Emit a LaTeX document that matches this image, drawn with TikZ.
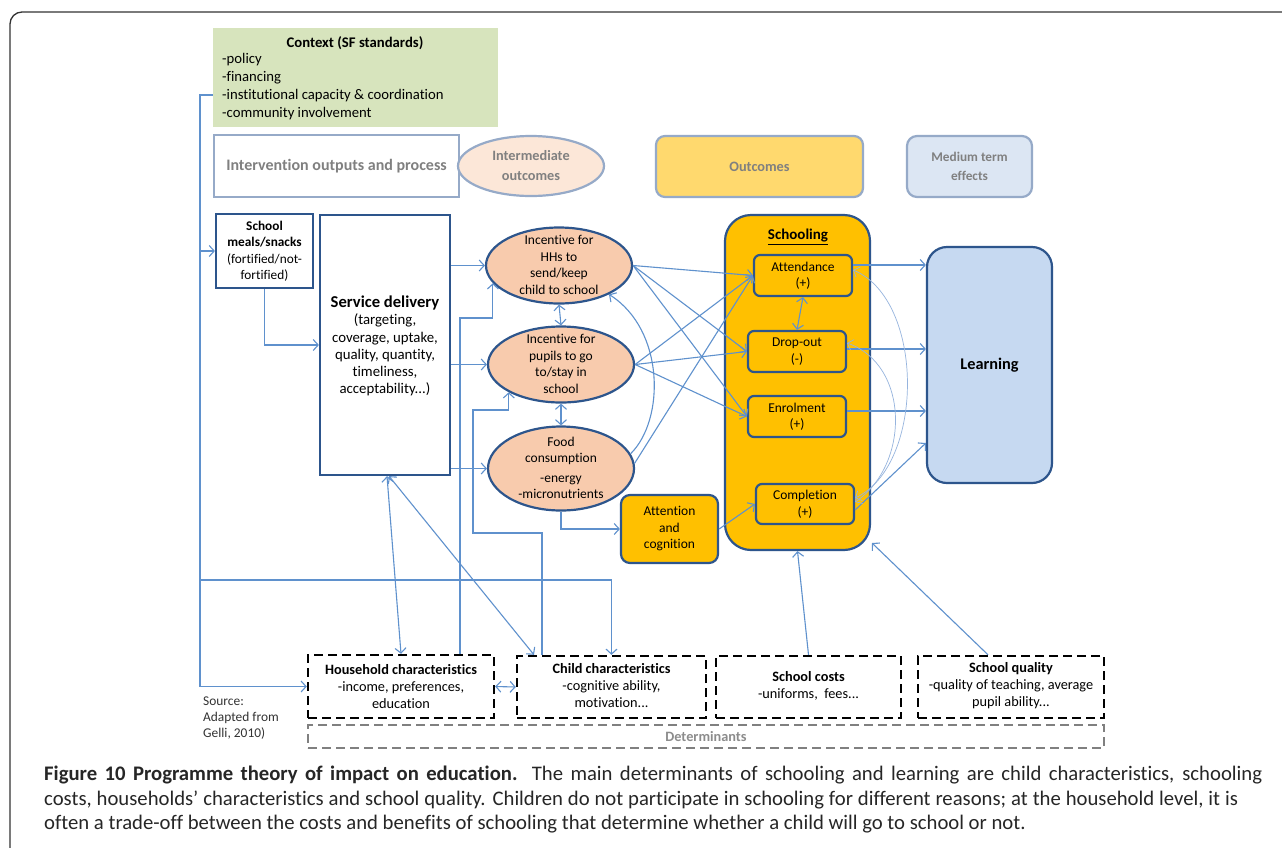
\documentclass[tikz,border=0pt]{standalone}
\usepackage{fontspec}
\setmainfont{Carlito}[Ligatures={NoCommon}]
\usetikzlibrary{arrows.meta,shapes.geometric}
\definecolor{arrc}{RGB}{95,145,205}
\definecolor{fbc}{RGB}{150,180,222}
\definecolor{nodeb}{RGB}{45,85,140}
\definecolor{legb}{RGB}{150,170,200}
\definecolor{ctxg}{RGB}{215,228,189}
\definecolor{peach}{RGB}{248,203,173}
\definecolor{lpeach}{RGB}{252,231,216}
\definecolor{gold}{RGB}{255,192,0}
\definecolor{lgold}{RGB}{255,217,110}
\definecolor{lblue}{RGB}{198,217,241}
\definecolor{llblue}{RGB}{220,230,243}
\definecolor{legtxt}{RGB}{128,128,128}
\newcommand{\myfs}[2]{\fontsize{#1}{#2}\selectfont}
\begin{document}
\begin{tikzpicture}[x=1pt,y=-1pt,
  box/.style={draw=nodeb, line width=2.2pt, inner sep=0pt},
  legbox/.style={draw=legb, line width=2.2pt, inner sep=0pt, text=legtxt, font=\bfseries\myfs{14.3}{19}, align=center},
  ell/.style={ellipse, draw=nodeb, line width=2.2pt, fill=peach, inner sep=0pt},
  txt/.style={align=center, inner sep=0pt, font=\myfs{13.5}{16.5}},
  det/.style={draw=black, line width=2.4pt, dash pattern=on 9pt off 5pt, inner sep=0pt},
  arr/.style={draw=arrc, line width=1.1pt, -{Straight Barb[length=5pt,width=11pt]}},
  darr/.style={draw=arrc, line width=1.1pt, {Straight Barb[length=5pt,width=11pt]}-{Straight Barb[length=5pt,width=11pt]}},
  fb/.style={draw=fbc, line width=0.7pt, {Straight Barb[length=5pt,width=11pt]}-{Straight Barb[length=5pt,width=11pt]}},
  ln/.style={draw=arrc, line width=1.1pt}
]
\useasboundingbox (0,0) rectangle (1282,847);
\fill[white] (0,0) rectangle (1282,847);
% outer frame
\draw[line width=1.3pt, black!80, rounded corners=12pt] (10,860) -- (10,12) -- (1295,12);

% context
\node[fill=ctxg, minimum width=285pt, minimum height=99pt, inner sep=0pt] (ctx) at (355.5,77.5) {};
\node[font=\bfseries\myfs{14.7}{16}, inner sep=0pt] (ctxt) at (355,43) {Context (SF standards)};
\node[anchor=north west, align=left, inner sep=0pt, font=\myfs{14.7}{18}] (ctxl) at (222,53.5) {-policy\\-financing\\-institutional capacity \& coordination\\-community involvement};

% legend
\node[legbox, fill=white, minimum width=245pt, minimum height=62pt, font=\bfseries\myfs{16}{19}] (iop) at (336.5,166) {Intervention outputs and process};
\node[legbox, ellipse, fill=lpeach, minimum width=146pt, minimum height=60pt] (imo) at (531,166) {};
\node[txt, text=legtxt, font=\bfseries\myfs{14.3}{20}] (imot) at (531,166) {Intermediate\\outcomes};
\node[legbox, rounded corners=9pt, fill=lgold, minimum width=207pt, minimum height=61pt] (outc) at (759.5,166.5) {Outcomes};
\node[legbox, rounded corners=10pt, fill=llblue, minimum width=125pt, minimum height=61pt, font=\bfseries\myfs{13.3}{19}] (mte) at (969.5,166.5) {Medium term\\effects};

% left column
\node[box, minimum width=97pt, minimum height=74pt] (meals) at (264.5,251) {};
\node[txt, font=\myfs{13.3}{16.5}] (mealst) at (264.5,251) {\textbf{School}\\\textbf{meals/snacks}\\(fortified/not-\\fortified)};
\node[box, minimum width=130pt, minimum height=260pt] (sd) at (385,345) {};
\node[txt, font=\myfs{14.8}{17.2}] (sdt) at (385,346) {{\bfseries\myfs{16.6}{17.2}Service delivery}\\(targeting,\\coverage, uptake,\\quality, quantity,\\timeliness,\\acceptability...)};

% ellipses
\node[ell, minimum width=146pt, minimum height=76pt] (e1) at (559,265.5) {};
\node[txt] at (559,265) {Incentive for\\HHs to\\send/keep\\child to school};
\node[ell, minimum width=146pt, minimum height=76pt] (e2) at (561,364.5) {};
\node[txt] at (561,364) {Incentive for\\pupils to go\\to/stay in\\school};
\node[ell, minimum width=146pt, minimum height=84pt] (e3) at (561,468.5) {};
\node[txt] at (561,468) {Food\\consumption\\[3pt]-energy\\-micronutrients};

\node[box, rounded corners=9pt, fill=gold, minimum width=97pt, minimum height=68pt] (attn) at (669.5,529) {};
\node[txt] at (669.5,529) {Attention\\and\\cognition};

% schooling
\node[box, rounded corners=26pt, fill=gold, minimum width=145pt, minimum height=335pt] (sch) at (797.5,382.5) {};
\node[inner sep=0pt, font=\bfseries\myfs{15}{16}] (scht) at (798,237) {\underline{Schooling}};
\node[box, rounded corners=6pt, fill=gold, minimum width=98pt, minimum height=41pt] (att) at (803,275.5) {};
\node[txt] at (803,275.5) {Attendance\\(+)};
\node[box, rounded corners=6pt, fill=gold, minimum width=98pt, minimum height=41pt] (drop) at (797,351.5) {};
\node[txt] at (797,351.5) {Drop-out\\(-)};
\node[box, rounded corners=6pt, fill=gold, minimum width=98pt, minimum height=41pt] (enr) at (797,416.5) {};
\node[txt] at (797,416.5) {Enrolment\\(+)};
\node[box, rounded corners=6pt, fill=gold, minimum width=98pt, minimum height=40pt] (comp) at (805,504) {};
\node[txt] at (805,504) {Completion\\(+)};

\node[box, rounded corners=20pt, fill=lblue, minimum width=125pt, minimum height=236pt, font=\bfseries\myfs{16.3}{18}] (learn) at (989.5,365) {Learning};

% determinants
\node[det, minimum width=186pt, minimum height=63pt] (hh) at (401,686.5) {};
\node[txt, font=\myfs{14.3}{17}] at (401,686.5) {\textbf{Household characteristics}\\-income, preferences,\\education};
\node[det, minimum width=189pt, minimum height=62pt] (child) at (611.5,687) {};
\node[txt, font=\myfs{14.3}{17}] at (611.5,686) {\textbf{Child characteristics}\\-cognitive ability,\\motivation...};
\node[det, minimum width=185pt, minimum height=62pt] (sc) at (808.5,687) {};
\node[txt, font=\myfs{14.3}{17}] at (808.5,686) {\textbf{School costs}\\-uniforms,\ \ fees...};
\node[det, minimum width=186pt, minimum height=62pt] (sq) at (1011,687) {};
\node[txt, font=\myfs{14.3}{17}] at (1011,686) {\textbf{School quality}\\-quality of teaching, average\\pupil ability...};
\node[draw=black!50, line width=2pt, dash pattern=on 9pt off 5pt, minimum width=796pt, minimum height=23pt, inner sep=0pt, text=black!45, font=\bfseries\myfs{14.3}{16}] (detb) at (706,736.5) {Determinants};

\node[anchor=north west, align=left, inner sep=0pt, font=\myfs{13.4}{16}, text=black!80] (src) at (203,697) {Source:\\Adapted from\\Gelli, 2010)};

% connectors: context
\draw[arr] (ctx.west |- 0,95) -- (200,95) |- (hh.west);
\draw[arr] (200,0 |- meals.west) -- (meals.west);
\draw[arr] (200,580) -| (child.north);
\draw[arr] (meals.south) |- (sd.west);
\draw[arr] (sd.east |- e1.west) -- (e1.west);
\draw[arr] (sd.east |- e2.west) -- (e2.west);
\draw[arr] (sd.east |- e3.west) -- (e3.west);
\draw[arr] (hh.north -| 460,0) -- (460,318) -| (e1.195);
\draw[arr] (child.north -| 542,0) -- (542,533) -- (473,533) -- (473,410) -| (e2.208);
\draw[darr] (sd.south -| 387,0) -- (hh.north -| 401,0);
\draw[darr] (sd.south -| 389,0) -- (child.north -| 534,0);
\draw[darr] (hh.east) -- (child.west);
\draw[darr] (e1.south) -- (e2.north);
\draw[darr] (e2.south) -- (e3.north);
\draw[arr] (e3.south) |- (attn.west);
% to schooling
\draw[arr] (e1.east) -- (att.west);
\draw[arr] (e1.east) -- (drop.west);
\draw[arr] (e1.east) -- (enr.west);
\draw[arr] (e2.east) -- (att.west);
\draw[arr] (e2.east) -- (drop.west);
\draw[arr] (e2.east) -- (enr.west);
\draw[arr] (e3.4) -- (att.west);
\draw[arr] (e3.12) .. controls (665,420) and (665,330) .. (e1.-30);
\draw[arr] (attn.east) -- (comp.west);
\draw[darr] (att.south) -- (drop.north);
% to learning
\draw[arr] (att.east |- 0,265) -- (learn.west |- 0,265);
\draw[arr] (drop.east |- 0,349) -- (learn.west |- 0,349);
\draw[arr] (enr.east |- 0,411) -- (learn.west |- 0,411);
\draw[arr] (comp.east |- 0,510) -- (learn.west |- 0,443);
% feedback
\draw[fb] (att.east |- 0,270) .. controls (925,300) and (925,465) .. (comp.east |- 0,498);
\draw[fb] (drop.east |- 0,343) .. controls (910,365) and (910,465) .. (comp.east |- 0,502);
% determinants to schooling
\coordinate (schc) at (872,543);
\draw[arr] (sc.north) -- (sch.south);
\draw[arr] (sq.north -| 988,0) -- (schc);

% caption
\node[anchor=north west, align=left, inner sep=0pt, font=\myfs{20.7}{24.5}, text=black!85] (cap) at (44,766) {\makebox[1218pt][s]{\textbf{Figure 10 Programme theory of impact on education.} The main determinants of schooling and learning are child characteristics, schooling}\\\makebox[1194pt][s]{costs, households' characteristics and school quality. Children do not participate in schooling for different reasons; at the household level, it is}\\often a trade-off between the costs and benefits of schooling that determine whether a child will go to school or not.};
\end{tikzpicture}
\end{document}
